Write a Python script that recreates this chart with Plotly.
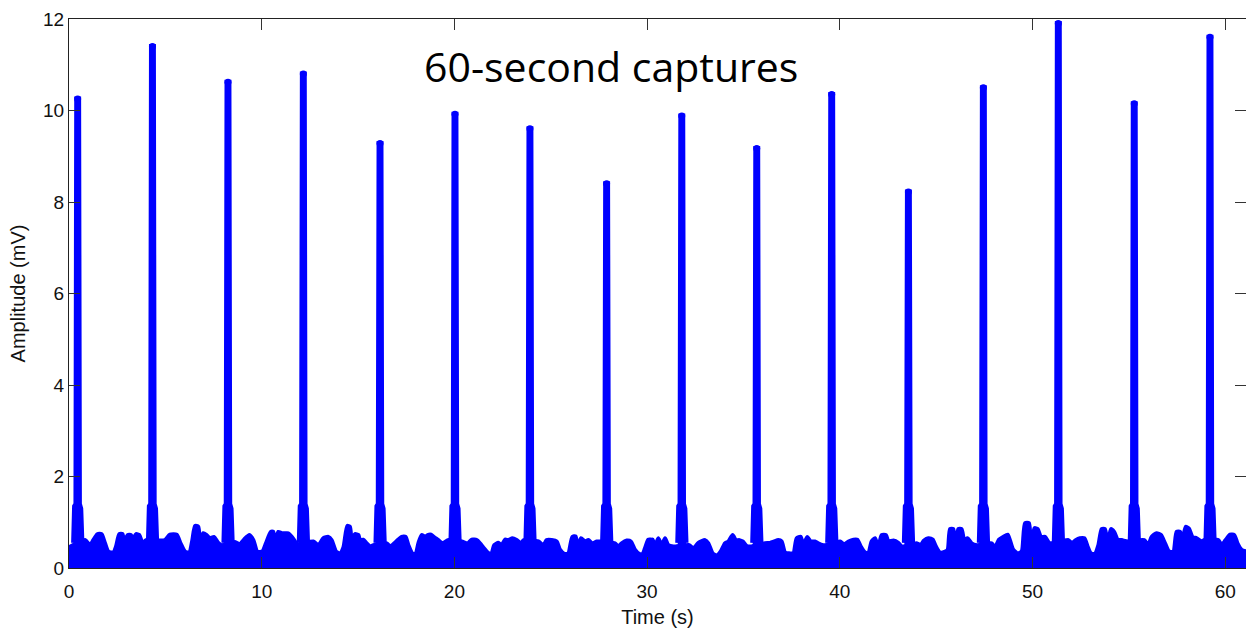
import plotly.graph_objects as go

# R-peak times (s) and amplitudes (mV)
spike_times = [0.45, 4.33, 8.25, 12.16, 16.14, 20.03, 23.92, 27.90,
               31.80, 35.69, 39.58, 43.56, 47.45, 51.34, 55.28, 59.21]
spike_peaks = [10.25, 11.40, 10.62, 10.80, 9.28, 9.92, 9.60, 8.40,
               9.88, 9.17, 10.35, 8.22, 10.50, 11.90, 10.15, 11.60]

# Baseline envelope between beats: time (s) and amplitude (mV)
base_t = [
    0.00, 0.83, 1.09, 1.26, 1.47, 1.69, 1.87, 2.04, 2.30, 2.44, 2.61, 2.78, 2.87,
    3.04, 3.22, 3.30, 3.48, 3.65, 3.82, 4.00,
    4.72, 4.98, 5.24, 5.59, 5.79, 6.02, 6.24, 6.40, 6.54, 6.71, 6.80, 6.97, 7.14,
    7.32, 7.52, 7.75, 7.92,
    8.61, 8.87, 9.08, 9.36, 9.57, 9.77, 10.03, 10.22, 10.47, 10.60, 10.69, 10.86,
    11.04, 11.21, 11.38, 11.55, 11.73, 11.85,
    12.68, 12.94, 13.20, 13.46, 13.63, 13.86, 14.06, 14.24, 14.44, 14.58, 14.67,
    14.84, 15.02, 15.10, 15.27, 15.45, 15.62, 15.80,
    16.49, 16.66, 16.88, 17.06, 17.26, 17.47, 17.61, 17.82, 17.99, 18.13, 18.30,
    18.48, 18.61, 18.79, 18.96, 19.17, 19.37, 19.70,
    20.38, 20.69, 20.90, 21.16, 21.33, 21.50, 21.73, 21.90, 22.07, 22.28, 22.45,
    22.63, 22.80, 23.01, 23.23, 23.45, 23.60,
    24.36, 24.62, 24.79, 25.05, 25.31, 25.48, 25.71, 25.91, 26.12, 26.29, 26.40,
    26.57, 26.78, 26.95, 27.16, 27.39, 27.58,
    28.33, 28.51, 28.68, 28.94, 29.16, 29.37, 29.58, 29.75, 29.89, 30.06, 30.24,
    30.29, 30.41, 30.58, 30.76, 30.93, 31.10, 31.36, 31.48,
    32.19, 32.40, 32.66, 33.01, 33.18, 33.40, 33.61, 33.82, 34.04, 34.22, 34.44,
    34.61, 34.79, 34.96, 35.17, 35.36,
    36.12, 36.38, 36.59, 36.81, 36.98, 37.16, 37.38, 37.59, 37.76, 37.97, 38.11,
    38.31, 38.48, 38.71, 38.88, 39.14, 39.26,
    40.01, 40.22, 40.45, 40.71, 40.91, 41.09, 41.31, 41.48, 41.65, 41.83, 42.00,
    42.17, 42.40, 42.52, 42.78, 43.04, 43.22,
    43.99, 44.19, 44.37, 44.59, 44.82, 44.99, 45.20, 45.46, 45.60, 45.72, 45.89,
    46.01, 46.15, 46.32, 46.46, 46.63, 46.84, 47.12,
    47.88, 48.05, 48.26, 48.48, 48.71, 48.83, 49.00, 49.23, 49.44, 49.61, 49.82,
    49.92, 50.10, 50.27, 50.44, 50.65, 50.86, 51.02,
    51.86, 52.03, 52.24, 52.46, 52.69, 52.86, 53.03, 53.24, 53.42, 53.59, 53.76,
    53.90, 54.07, 54.24, 54.42, 54.63, 54.95,
    55.80, 56.01, 56.18, 56.44, 56.67, 56.88, 57.09, 57.31, 57.48, 57.66, 57.78,
    57.95, 58.12, 58.30, 58.52, 58.78, 58.89,
    59.64, 59.82, 60.02, 60.25, 60.47, 60.64, 60.85, 61.10,
]
base_v = [
    0.45, 0.61, 0.50, 0.61, 0.74, 0.74, 0.54, 0.36, 0.34, 0.47, 0.74, 0.74, 0.54,
    0.72, 0.72, 0.62, 0.74, 0.72, 0.54, 0.61,
    0.60, 0.61, 0.73, 0.73, 0.54, 0.36, 0.34, 0.61, 0.92, 0.90, 0.58, 0.76, 0.72,
    0.65, 0.68, 0.55, 0.50,
    0.57, 0.52, 0.62, 0.72, 0.61, 0.36, 0.36, 0.54, 0.79, 0.79, 0.54, 0.79,
    0.76, 0.76, 0.76, 0.69, 0.58, 0.52,
    0.58, 0.50, 0.65, 0.68, 0.61, 0.36, 0.32, 0.45, 0.92, 0.90, 0.61,
    0.74, 0.72, 0.61, 0.62, 0.54, 0.47, 0.50,
    0.54, 0.47, 0.54, 0.61, 0.68, 0.68, 0.50, 0.32, 0.32, 0.54, 0.72,
    0.68, 0.72, 0.73, 0.67, 0.61, 0.54, 0.61,
    0.58, 0.54, 0.62, 0.61, 0.54, 0.45, 0.34, 0.29, 0.50, 0.55, 0.50,
    0.62, 0.61, 0.65, 0.61, 0.54, 0.61,
    0.58, 0.50, 0.61, 0.61, 0.58, 0.40, 0.31, 0.32, 0.68, 0.69, 0.43,
    0.65, 0.58, 0.61, 0.54, 0.58, 0.58,
    0.54, 0.47, 0.54, 0.60, 0.58, 0.40, 0.31, 0.29, 0.43, 0.62, 0.62,
    0.62, 0.47, 0.65, 0.50, 0.65, 0.50, 0.47, 0.47,
    0.50, 0.43, 0.55, 0.61, 0.54, 0.32, 0.27, 0.36, 0.54, 0.58, 0.72,
    0.61, 0.61, 0.58, 0.48, 0.47,
    0.54, 0.55, 0.58, 0.61, 0.58, 0.34, 0.32, 0.32, 0.65, 0.68, 0.50,
    0.68, 0.58, 0.58, 0.54, 0.50, 0.50,
    0.58, 0.52, 0.58, 0.62, 0.62, 0.47, 0.34, 0.32, 0.58, 0.65, 0.45,
    0.72, 0.72, 0.58, 0.60, 0.55, 0.47,
    0.54, 0.50, 0.60, 0.65, 0.62, 0.47, 0.34, 0.36, 0.40, 0.85, 0.85,
    0.43, 0.85, 0.85, 0.61, 0.65, 0.54, 0.50,
    0.54, 0.45, 0.62, 0.68, 0.73, 0.61, 0.40, 0.32, 0.36, 0.98, 0.98,
    0.43, 0.87, 0.85, 0.68, 0.68, 0.55, 0.54,
    0.61, 0.54, 0.61, 0.65, 0.65, 0.47, 0.32, 0.31, 0.50, 0.85, 0.85,
    0.54, 0.85, 0.79, 0.62, 0.61, 0.58,
    0.61, 0.50, 0.68, 0.76, 0.72, 0.54, 0.36, 0.36, 0.79, 0.79, 0.61,
    0.90, 0.86, 0.68, 0.65, 0.58, 0.61,
    0.61, 0.50, 0.61, 0.73, 0.72, 0.54, 0.40, 0.36,
]

# QRS complex profile around each R peak: time offset (s) and level (mV);
# None marks the points that take the peak amplitude
qrs_dt = [-0.21, -0.16, -0.09, -0.05, 0.05, 0.09, 0.16, 0.22]
qrs_v = [0.55, 1.35, 1.40, None, None, 1.40, 1.30, 0.55]

BLUE = "rgb(0,0,255)"

# Baseline activity between beats (smoothed), skipping the QRS windows
bt, bv = [], []
for t, v in zip(base_t, base_v):
    if all(abs(t - T) > 0.25 for T in spike_times):
        bt.append(t)
        bv.append(v)

fig = go.Figure()
fig.add_trace(go.Scatter(
    x=bt, y=bv, mode="lines",
    line=dict(color=BLUE, width=4, shape="spline", smoothing=0.6),
    fill="tozeroy", fillcolor=BLUE,
    showlegend=False, hoverinfo="skip",
))

# QRS complexes, one filled trace per beat
for T, P in zip(spike_times, spike_peaks):
    fig.add_trace(go.Scatter(
        x=[T + dt for dt in qrs_dt],
        y=[P if lv is None else lv for lv in qrs_v],
        mode="lines",
        line=dict(color=BLUE, width=5),
        fill="tozeroy", fillcolor=BLUE,
        showlegend=False, hoverinfo="skip",
    ))

# Rounded tips on the R peaks
fig.add_trace(go.Scatter(
    x=spike_times, y=spike_peaks, mode="markers",
    marker=dict(color=BLUE, size=7, line=dict(width=0)),
    showlegend=False, hoverinfo="skip",
))

axis_font = dict(family="Liberation Sans, Arial, sans-serif", size=19, color="#111")
title_font = dict(family="Liberation Sans, Arial, sans-serif", size=20, color="#111")

fig.update_layout(
    width=1246, height=631,
    margin=dict(l=69, r=0, t=19, b=63),
    paper_bgcolor="white", plot_bgcolor="white",
    font=axis_font,
    xaxis=dict(
        range=[0, 61.08], tickvals=[0, 10, 20, 30, 40, 50, 60],
        ticks="inside", ticklen=11, tickcolor="#333", tickwidth=1,
        showline=True, linecolor="#222", linewidth=1, mirror="ticks",
        showgrid=False, zeroline=False,
        tickfont=axis_font, ticklabelstandoff=6,
        title=dict(text="Time (s)", font=title_font, standoff=9),
    ),
    yaxis=dict(
        range=[0, 12], tickvals=[0, 2, 4, 6, 8, 10, 12],
        ticks="inside", ticklen=11, tickcolor="#333", tickwidth=1,
        showline=True, linecolor="#222", linewidth=1, mirror="ticks",
        showgrid=False, zeroline=False,
        tickfont=axis_font,
        title=dict(text="Amplitude (mV)", font=title_font, standoff=12),
    ),
    annotations=[dict(
        text="60-second captures", xref="paper", yref="paper",
        x=(611 - 69) / 1177, y=1 - (66 - 19) / 549,
        xanchor="center", yanchor="middle", showarrow=False,
        font=dict(family="Open Sans, Noto Sans, sans-serif", size=41, color="black"),
    )],
)

fig.write_html("out.html")
